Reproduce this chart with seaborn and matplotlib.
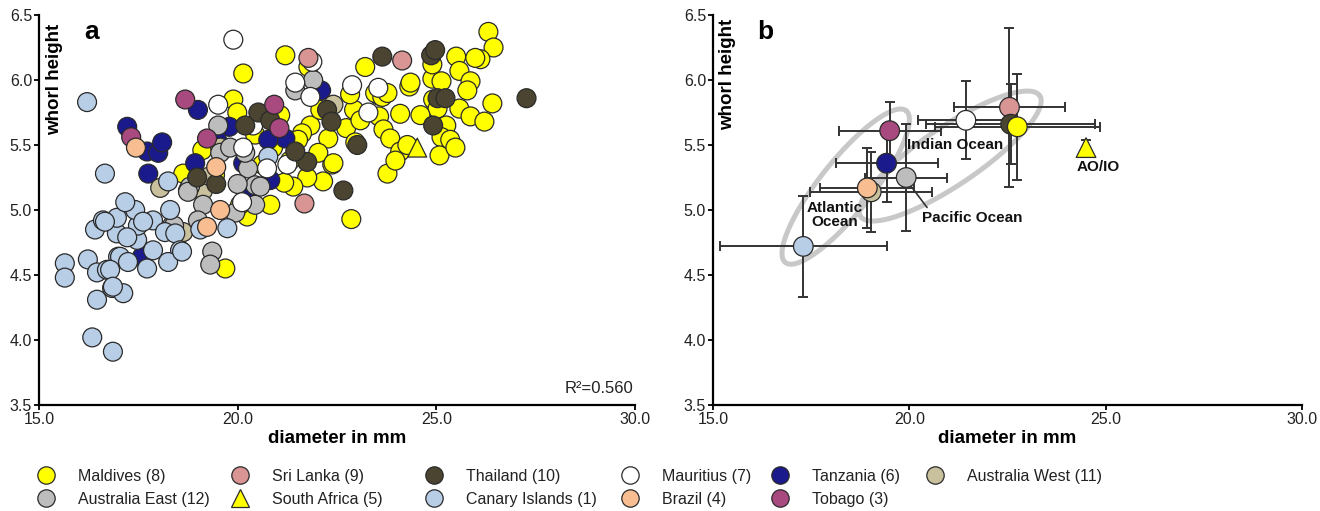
import numpy as np
import pandas as pd
import matplotlib
matplotlib.use("Agg")
import matplotlib.pyplot as plt
import seaborn as sns
from matplotlib.lines import Line2D

# ---------------- data (panel a: individual shells) ----------------
maldives_x = [26.31, 26.44, 26.11, 25.50, 25.58, 25.86, 25.78, 24.90, 25.13, 24.90, 24.32, 23.21,
              26.41, 25.58, 25.86, 26.21, 24.92, 25.03, 25.25, 25.13, 25.08, 24.09, 23.56, 23.46,
              23.64, 22.93, 23.56, 23.67, 23.84, 24.09, 24.27, 22.73, 22.28, 22.96, 22.38, 22.03,
              22.15, 21.83, 21.75, 23.77, 22.86, 21.20, 20.14, 21.78, 24.35, 23.77, 23.09, 21.62,
              22.41, 21.40, 21.17, 21.52, 23.97, 25.35, 25.98, 24.60, 19.89, 19.99, 19.11, 21.07,
              20.89, 20.24, 19.69, 18.63, 20.06, 20.82, 20.62, 19.43, 20.44, 21.32, 22.08, 22.83,
              25.48]
maldives_y = [6.37, 6.25, 6.16, 6.18, 6.07, 5.99, 5.92, 6.01, 5.99, 6.12, 5.95, 6.10,
              5.82, 5.78, 5.72, 5.68, 5.85, 5.78, 5.65, 5.56, 5.42, 5.74, 5.88, 5.90,
              5.87, 5.77, 5.72, 5.62, 5.55, 5.45, 5.50, 5.63, 5.55, 5.52, 5.35, 5.44,
              5.22, 5.65, 5.25, 5.28, 4.93, 6.19, 6.05, 6.10, 5.98, 5.90, 5.69, 5.59,
              5.36, 5.18, 5.21, 5.54, 5.38, 5.54, 6.17, 5.73, 5.85, 5.75, 5.46, 5.73,
              5.48, 4.95, 4.55, 5.28, 5.04, 5.04, 5.35, 5.27, 5.58, 5.38, 5.77, 5.89,
              5.48]

tanzania_x = [17.22, 17.72, 18.00, 18.10, 17.75, 19.00, 17.59, 18.93, 18.75, 20.19, 19.79, 22.10,
              21.20, 20.82, 19.48, 20.77, 20.14]
tanzania_y = [5.64, 5.45, 5.44, 5.52, 5.28, 5.77, 4.64, 5.36, 5.15, 5.15, 5.64, 5.92,
              5.55, 5.23, 5.54, 5.54, 5.36]

aus_west_x = [18.05, 18.55, 18.63, 22.41, 19.56, 19.13, 18.35, 19.30]
aus_west_y = [5.17, 4.82, 4.83, 5.81, 5.48, 5.15, 4.88, 5.26]

aus_east_x = [19.51, 19.56, 18.80, 19.13, 20.26, 20.44, 21.45, 21.90, 20.19, 20.57, 20.44, 19.94,
              18.75, 19.36, 19.81, 19.31, 18.40, 19.00, 20.00]
aus_east_y = [5.65, 5.44, 5.18, 5.04, 5.32, 5.19, 5.92, 6.00, 5.44, 5.18, 5.04, 4.98,
              5.14, 4.68, 5.48, 4.58, 4.88, 4.92, 5.20]

canary_x = [15.65, 15.65, 16.23, 16.46, 16.46, 16.34, 16.86, 16.84, 17.12, 16.71, 16.99, 16.41,
            16.61, 16.96, 16.96, 17.47, 17.49, 17.42, 17.87, 18.30, 18.17, 18.43, 18.55, 18.25,
            17.72, 17.87, 19.06, 19.74, 16.21, 16.66, 18.25, 17.17, 20.77, 17.62, 16.66, 17.22,
            17.04, 17.24, 18.60, 16.79, 16.86]
canary_y = [4.59, 4.48, 4.62, 4.52, 4.31, 4.02, 3.91, 4.40, 4.36, 4.54, 4.64, 4.85,
            4.92, 4.82, 4.94, 4.77, 4.88, 5.00, 4.92, 5.00, 4.83, 4.82, 4.69, 4.60,
            4.55, 4.69, 4.85, 4.86, 5.83, 5.28, 5.22, 5.06, 5.41, 4.91, 4.91, 4.79,
            4.64, 4.60, 4.68, 4.54, 4.41]

mauritius_x = [19.89, 19.51, 20.39, 20.14, 20.74, 20.11, 21.88, 21.83, 21.45, 22.88, 23.29, 23.54, 21.25]
mauritius_y = [6.31, 5.81, 5.65, 5.48, 5.32, 5.06, 6.14, 5.87, 5.98, 5.96, 5.75, 5.94, 5.35]

thailand_x = [23.64, 24.87, 24.97, 25.03, 25.23, 24.92, 27.27, 23.01, 22.66, 22.25, 22.36, 21.75,
              21.45, 20.52, 20.82, 20.19, 18.98, 19.46]
thailand_y = [6.18, 6.19, 6.23, 5.86, 5.86, 5.65, 5.86, 5.50, 5.15, 5.77, 5.68, 5.37,
              5.45, 5.75, 5.69, 5.65, 5.25, 5.20]

tobago_x = [18.68, 17.32, 19.23, 21.05, 20.92]
tobago_y = [5.85, 5.56, 5.55, 5.63, 5.81]

brazil_x = [17.44, 19.46, 19.56, 19.23]
brazil_y = [5.48, 5.33, 5.00, 4.87]

srilanka_x = [24.14, 21.78, 21.68]
srilanka_y = [6.15, 6.17, 5.05]

safrica_x = [24.52]
safrica_y = [5.48]

# ---------------- data (panel b: site means +/- SD) ----------------
mean_sites = ["Canary Islands (1)", "Australia West (11)", "Brazil (4)", "Australia East (12)",
              "Tanzania (6)", "Tobago (3)", "Mauritius (7)", "Sri Lanka (9)", "Thailand (10)",
              "Maldives (8)", "South Africa (5)"]
mean_x = [17.30, 19.03, 18.93, 19.92, 19.42, 19.50, 21.44, 22.55, 22.58, 22.75, 24.50]
mean_y = [4.72, 5.14, 5.17, 5.25, 5.36, 5.61, 5.69, 5.79, 5.66, 5.64, 5.48]
sd_x = [2.12, 1.55, 1.20, 1.05, 1.30, 1.30, 1.21, 1.42, 2.15, 2.10, 0.00]
sd_y = [0.39, 0.31, 0.31, 0.41, 0.30, 0.22, 0.30, 0.61, 0.31, 0.41, 0.06]

# legend columns (row 1 / row 2)
legend_columns = [["Maldives (8)", "Australia East (12)"],
                  ["Sri Lanka (9)", "South Africa (5)"],
                  ["Thailand (10)", "Canary Islands (1)"],
                  ["Mauritius (7)", "Brazil (4)"],
                  ["Tanzania (6)", "Tobago (3)"],
                  ["Australia West (11)"]]

x_ticks = [15.0, 20.0, 25.0, 30.0]
y_ticks = [3.5, 4.0, 4.5, 5.0, 5.5, 6.0, 6.5]

# ---------------- styles ----------------
colors = {
    "Maldives (8)": "#ffff00",
    "Sri Lanka (9)": "#d99494",
    "Thailand (10)": "#4a4430",
    "Mauritius (7)": "#ffffff",
    "Tanzania (6)": "#1a1a8c",
    "Australia West (11)": "#c9c19d",
    "Australia East (12)": "#bdbdbd",
    "South Africa (5)": "#ffff00",
    "Canary Islands (1)": "#b8cde6",
    "Brazil (4)": "#f8bd90",
    "Tobago (3)": "#a8497f",
}
markers = {k: "o" for k in colors}
markers["South Africa (5)"] = "^"

sns.set_theme(style="white")
plt.rcParams["font.family"] = ["Liberation Sans", "DejaVu Sans"]

groups_a = [
    ("Maldives (8)", maldives_x, maldives_y),
    ("Tanzania (6)", tanzania_x, tanzania_y),
    ("Australia West (11)", aus_west_x, aus_west_y),
    ("Australia East (12)", aus_east_x, aus_east_y),
    ("Canary Islands (1)", canary_x, canary_y),
    ("Mauritius (7)", mauritius_x, mauritius_y),
    ("Thailand (10)", thailand_x, thailand_y),
    ("Tobago (3)", tobago_x, tobago_y),
    ("Brazil (4)", brazil_x, brazil_y),
    ("Sri Lanka (9)", srilanka_x, srilanka_y),
    ("South Africa (5)", safrica_x, safrica_y),
]
df_a = pd.concat([pd.DataFrame({"x": gx, "y": gy, "site": name}) for name, gx, gy in groups_a],
                 ignore_index=True)
df_b = pd.DataFrame({"x": mean_x, "y": mean_y, "sx": sd_x, "sy": sd_y, "site": mean_sites})

W, H = 1320, 511
fig = plt.figure(figsize=(W / 100, H / 100), dpi=100)
axa = fig.add_axes([39 / W, 1 - 405 / H, 596 / W, 390 / H])
axb = fig.add_axes([713 / W, 1 - 405 / H, 589 / W, 390 / H])

# ---------------- panel a ----------------
sns.scatterplot(data=df_a, x="x", y="y", hue="site", style="site", palette=colors,
                markers=markers, s=185, edgecolor="#2a2a2a", linewidth=0.9, alpha=1,
                legend=False, ax=axa, zorder=3)
axa.text(0.998, 0.031, "R²=0.560", transform=axa.transAxes, fontsize=12, ha="right",
         va="baseline", color="#222222")


def style_axes(ax, letter):
    ax.set_xlim(15, 30)
    ax.set_ylim(3.5, 6.5)
    ax.set_xticks(x_ticks)
    ax.set_xticklabels([f"{v:.1f}" for v in x_ticks])
    ax.set_yticks(y_ticks)
    ax.set_yticklabels([f"{v:.1f}" for v in y_ticks])
    for s in ["top", "right"]:
        ax.spines[s].set_visible(False)
    for s in ["left", "bottom"]:
        ax.spines[s].set_color("black")
        ax.spines[s].set_linewidth(1.6)
    ax.tick_params(axis="both", direction="out", length=3.5, width=1.3, color="black",
                   labelsize=11.5, labelcolor="#222222", pad=1.5, left=True, bottom=True)
    ax.text(0.088, 0.9385, letter, transform=ax.transAxes, fontsize=19, fontweight="bold",
            ha="center", va="baseline", color="black")
    ax.grid(False)


style_axes(axa, "a")
style_axes(axb, "b")

# ---------------- panel b ----------------
fig.canvas.draw()


def px_ellipse(ax, cx, cy, a_px, b_px, ang_deg, **kw):
    t = np.linspace(0, 2 * np.pi, 300)
    ex, ey = a_px * np.cos(t), b_px * np.sin(t)
    A = np.deg2rad(ang_deg)
    dx = ex * np.cos(A) - ey * np.sin(A)
    dy = ex * np.sin(A) + ey * np.cos(A)
    c = ax.transData.transform((cx, cy))
    pts = ax.transData.inverted().transform(np.column_stack([c[0] + dx, c[1] + dy]))
    ax.plot(pts[:, 0], pts[:, 1], **kw)


ell_color = "#c8c8c8"
px_ellipse(axb, 18.38, 5.18, 97, 26, 51.5, color=ell_color, lw=3.6, zorder=1)
px_ellipse(axb, 21.04, 5.415, 108, 29, 34.0, color=ell_color, lw=3.6, zorder=1)

for _, r in df_b.iterrows():
    axb.errorbar(r["x"], r["y"], xerr=r["sx"] if r["sx"] > 0 else None, yerr=r["sy"],
                 fmt="none", ecolor="#333333", elinewidth=1.4, capsize=3.3, capthick=1.4,
                 zorder=2)

sns.scatterplot(data=df_b, x="x", y="y", hue="site", style="site", palette=colors,
                markers=markers, s=200, edgecolor="#2a2a2a", linewidth=0.9, alpha=1,
                legend=False, ax=axb, zorder=4)

lbl = dict(fontsize=11, fontweight="bold", color="#111111", zorder=5)
axb.text(21.16, 5.50, "Indian Ocean", ha="center", va="center", **lbl)
axb.text(18.10, 4.96, "Atlantic\nOcean", ha="center", va="center", linespacing=0.95, **lbl)
axb.text(24.82, 5.33, "AO/IO", ha="center", va="center", **lbl)
axb.annotate("Pacific Ocean", xy=(20.05, 5.18), xytext=(21.59, 4.94), ha="center", va="center",
             arrowprops=dict(arrowstyle="-", color="#333333", lw=1.2, shrinkA=0, shrinkB=0,
                             relpos=(0.08, 1.0)), **lbl)

# axis labels (after seaborn calls so positions stick)
for ax, ly in ((axa, 0.835), (axb, 0.848)):
    ax.set_xlabel("diameter in mm", fontsize=13.5, fontweight="bold", color="black")
    ax.set_ylabel("whorl height", fontsize=13.5, fontweight="bold", color="black")
    ax.xaxis.set_label_coords(0.5, -0.065)
    ax.yaxis.set_label_coords(0.04, ly)

# ---------------- legend (one legend per column) ----------------
col_marker_px = [46, 240, 434, 630, 780, 935]
fs = 11.5
hl = 1.2
for names, mx in zip(legend_columns, col_marker_px):
    handles = [Line2D([], [], linestyle="none", marker=markers[k],
                      markersize=12.5 if k != "South Africa (5)" else 13.5,
                      markerfacecolor=colors[k], markeredgecolor="#2a2a2a", markeredgewidth=0.9)
               for k in names]
    left_px = mx - hl * fs * 100 / 72 / 2
    fig.legend(handles, names, ncol=1, loc="upper left",
               bbox_to_anchor=(left_px / W, 1 - 469 / H),
               frameon=False, fontsize=fs, handlelength=hl, handletextpad=1.4,
               labelspacing=0.5, borderaxespad=0, borderpad=0,
               labelcolor="#222222")

fig.savefig("out.png", dpi=100)
